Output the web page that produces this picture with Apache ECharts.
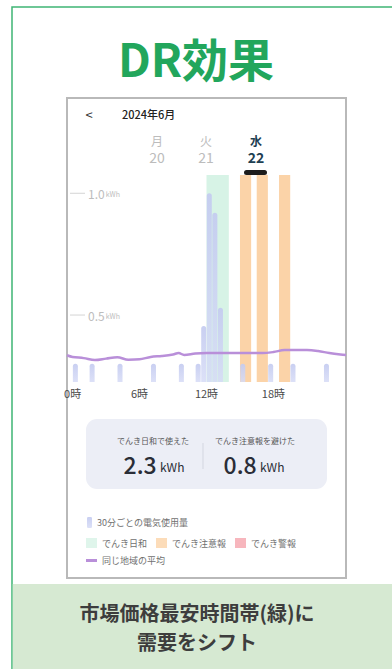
<!DOCTYPE html>
<html>
<head>
<meta charset="utf-8">
<script src="https://cdn.jsdelivr.net/npm/echarts@6/dist/echarts.min.js"></script>
<style>
  html, body { margin: 0; padding: 0; background: #fff; }
  #chart { width: 392px; height: 669px; }
</style>
</head>
<body>
<div id="chart"></div>
<script>
// 30-minute usage slots (slot start, hours) and kWh used in each
const slotStarts = [0, 1.5, 4, 7, 9.5, 11, 11.5, 12, 12.5, 13, 15, 17.5, 19.5, 22.5];
const usageKWh   = [0.30, 0.30, 0.30, 0.30, 0.30, 0.30, 0.455, 1.0, 0.92, 0.53, 0.30, 0.30, 0.30, 0.30];

// Regional average (hours → kWh)
const avgHours  = [-0.5, 0, 1, 2, 3, 4, 5, 6, 7, 8, 9, 9.5, 10, 11, 12, 13, 14, 15, 16, 17, 18, 19, 20, 21, 22, 23, 24, 24.5];
const avgValues = [0.335, 0.328, 0.323, 0.315, 0.321, 0.327, 0.316, 0.318, 0.328, 0.332, 0.338, 0.344, 0.336, 0.342, 0.344, 0.344, 0.344, 0.344, 0.344, 0.344, 0.348, 0.356, 0.356, 0.356, 0.352, 0.344, 0.338, 0.336];

// Periods (start, end hours)
const hiyoriPeriods = [[12, 14]];
const chuihoPeriods = [[15, 16], [16.5, 17.5], [18.5, 19.5]];
const keihoPeriods  = [];

// Axis labels
const hourTicks = [0, 6, 12, 18];
const kwhTicks  = [0.5, 1.0];

// Header / summary / caption
const monthLabel = '2024年6月';
const weekdays = ['月', '火', '水'];
const days = ['20', '21', '22'];
const hiyoriUsed = '2.3';
const chuihoAvoided = '0.8';
const caption = ['市場価格最安時間帯(緑)に', '需要をシフト'];

const FONT = '"Noto Sans CJK JP", "Noto Sans", sans-serif';
const C_HIYORI = '#d7f3e6';
const C_CHUIHO = '#fbd3a8';
const C_KEIHO  = '#f5a4ac';
const C_AVG    = '#b98fd9';

const chart = echarts.init(document.getElementById('chart'), null, { renderer: 'svg' });

function areas(periods) {
  return periods.map(p => [{ xAxis: p[0] }, { xAxis: p[1] }]);
}

// centred text element placed by its anchor point
function ctext(x, y, text, font, fill, z, lineHeight) {
  const style = { text: text, font: font, fill: fill, align: 'center', verticalAlign: 'middle', textAlign: 'center', textVerticalAlign: 'middle' };
  if (lineHeight) style.lineHeight = lineHeight;
  return { type: 'text', x: x, y: y, z: z || 20, style: style };
}

const barGradient = new echarts.graphic.LinearGradient(0, 0, 0, 1, [
  { offset: 0, color: 'rgba(196,203,240,0.92)' },
  { offset: 1, color: 'rgba(214,219,246,0.85)' }
]);

const dayX = [157, 206, 256];
const headerTexts = [];
weekdays.forEach((w, i) => {
  const active = i === 2;
  const col = active ? '#1e3f52' : '#bcbcbc';
  headerTexts.push(ctext(dayX[i], 140, w, (active ? 'bold ' : '') + '12px ' + FONT, col, 20, 12));
  headerTexts.push(ctext(dayX[i], 157, days[i], (active ? 'bold ' : '') + '14px ' + FONT, col, 20, 14));
});

const bigRich = {
  b: { fontSize: 23, fontFamily: FONT, fill: '#2a2d37', fontWeight: 500 },
  u: { fontSize: 12, fontFamily: FONT, fill: '#2a2d37', padding: [4, 0, 0, 0] }
};

chart.setOption({
  animation: false,
  textStyle: { fontFamily: FONT },
  title: {
    text: 'DR効果',
    left: 'center',
    top: 29,
    textStyle: { fontSize: 46, fontWeight: 'bold', color: '#22a65c', fontFamily: FONT }
  },
  grid: { left: 67, right: 46, top: 175, bottom: 287, containLabel: false },
  xAxis: {
    type: 'value', min: -0.5, max: 24.5, interval: 0.5,
    axisLine: { show: false }, axisTick: { show: false }, splitLine: { show: false },
    axisLabel: {
      margin: 5, color: '#4a4a4a', fontSize: 11, fontFamily: FONT,
      showMinLabel: true, showMaxLabel: true,
      formatter: v => hourTicks.some(h => Math.abs(h - v) < 1e-6) ? Math.round(v) + '時' : ''
    }
  },
  yAxis: {
    type: 'value', min: 0.225, max: 1.075, interval: 0.025,
    axisLine: { show: false }, axisTick: { show: false }, splitLine: { show: false },
    axisLabel: {
      inside: true, margin: 3,
      formatter: v => kwhTicks.some(k => Math.abs(k - v) < 1e-6) ? '{ln| }{v|' + v.toFixed(1) + '}{u|kWh}' : '',
      rich: {
        ln: { width: 15, height: 1, backgroundColor: '#d4d4d4' },
        v: { fontSize: 12, color: '#bdbdbd', padding: [0, 0, 0, 3], fontFamily: FONT },
        u: { fontSize: 7, color: '#bdbdbd', padding: [2, 0, 0, 1], fontFamily: FONT }
      }
    }
  },
  legend: [
    {
      data: ['30分ごとの電気使用量'], left: 82, top: 512, selectedMode: false,
      icon: 'roundRect', itemWidth: 5, itemHeight: 11,
      textStyle: { fontSize: 9, color: '#707070', fontFamily: FONT }
    },
    {
      data: ['でんき日和', 'でんき注意報', 'でんき警報'], left: 81, top: 533, selectedMode: false,
      icon: 'rect', itemWidth: 11, itemHeight: 10, itemGap: 9,
      textStyle: { fontSize: 9, color: '#707070', fontFamily: FONT }
    },
    {
      data: ['同じ地域の平均'], left: 81, top: 551, selectedMode: false,
      icon: 'rect', itemWidth: 11, itemHeight: 3,
      textStyle: { fontSize: 9, color: '#707070', fontFamily: FONT }
    }
  ],
  graphic: [
    // outer green frame
    { type: 'rect', z: -20, shape: { x: 12, y: 7, width: 420, height: 700 }, style: { fill: '#fff', stroke: '#3fb574', lineWidth: 1.5 } },
    // bottom caption panel
    { type: 'rect', z: -19, shape: { x: 12.75, y: 584, width: 400, height: 90 }, style: { fill: '#d6e9d2' } },
    ctext(197, 627, caption.join('\n'), 'bold 20px ' + FONT, '#3d3d3d', 20, 29.5),
    // phone screen frame
    { type: 'rect', z: -18, shape: { x: 67, y: 98, width: 279, height: 480 }, style: { fill: '#fff', stroke: '#b9b9b9', lineWidth: 2 } },
    // header
    ctext(89, 114, '<', '13px ' + FONT, '#333'),
    { type: 'text', z: 20, x: 122, y: 114, style: { text: monthLabel, font: '500 11px ' + FONT, fill: '#222', verticalAlign: 'middle', textVerticalAlign: 'middle' } },
    ...headerTexts,
    { type: 'rect', z: 30, shape: { x: 244, y: 170, width: 23, height: 5, r: 2.5 }, style: { fill: '#1c1c1c' } },
    // summary card
    { type: 'rect', z: 5, shape: { x: 86, y: 419, width: 241, height: 70, r: 11 }, style: { fill: '#eceef6' } },
    { type: 'line', z: 6, shape: { x1: 203, y1: 443, x2: 203, y2: 469 }, style: { stroke: '#d3d6e0', lineWidth: 1 } },
    ctext(153, 440, 'でんき日和で使えた', '8px ' + FONT, '#555', 6),
    ctext(255, 440, 'でんき注意報を避けた', '8px ' + FONT, '#555', 6),
    {
      type: 'text', z: 6, x: 154, y: 464,
      style: { text: '{b|' + hiyoriUsed + '} {u|kWh}', rich: bigRich, align: 'center', verticalAlign: 'middle', textAlign: 'center', textVerticalAlign: 'middle' }
    },
    {
      type: 'text', z: 6, x: 254, y: 464,
      style: { text: '{b|' + chuihoAvoided + '} {u|kWh}', rich: bigRich, align: 'center', verticalAlign: 'middle', textAlign: 'center', textVerticalAlign: 'middle' }
    }
  ],
  series: [
    {
      name: 'でんき日和', type: 'scatter', data: [], z: 1,
      color: C_HIYORI, itemStyle: { color: C_HIYORI },
      markArea: { silent: true, itemStyle: { color: C_HIYORI }, data: areas(hiyoriPeriods) }
    },
    {
      name: 'でんき注意報', type: 'scatter', data: [], z: 1,
      color: C_CHUIHO, itemStyle: { color: C_CHUIHO },
      markArea: { silent: true, itemStyle: { color: C_CHUIHO }, data: areas(chuihoPeriods) }
    },
    {
      name: 'でんき警報', type: 'scatter', data: [], z: 1,
      color: C_KEIHO, itemStyle: { color: C_KEIHO },
      markArea: { silent: true, itemStyle: { color: C_KEIHO }, data: areas(keihoPeriods) }
    },
    {
      name: '30分ごとの電気使用量', type: 'bar', z: 3, barWidth: 5,
      color: '#cdd3f1',
      itemStyle: { color: barGradient, borderRadius: [3, 3, 0, 0] },
      data: slotStarts.map((s, i) => [s + 0.25, usageKWh[i]])
    },
    {
      name: '同じ地域の平均', type: 'line', z: 4, smooth: 0.35, symbol: 'none',
      color: C_AVG, itemStyle: { color: C_AVG },
      lineStyle: { color: C_AVG, width: 2.5 },
      data: avgHours.map((h, i) => [h, avgValues[i]])
    }
  ]
});
</script>
</body>
</html>
